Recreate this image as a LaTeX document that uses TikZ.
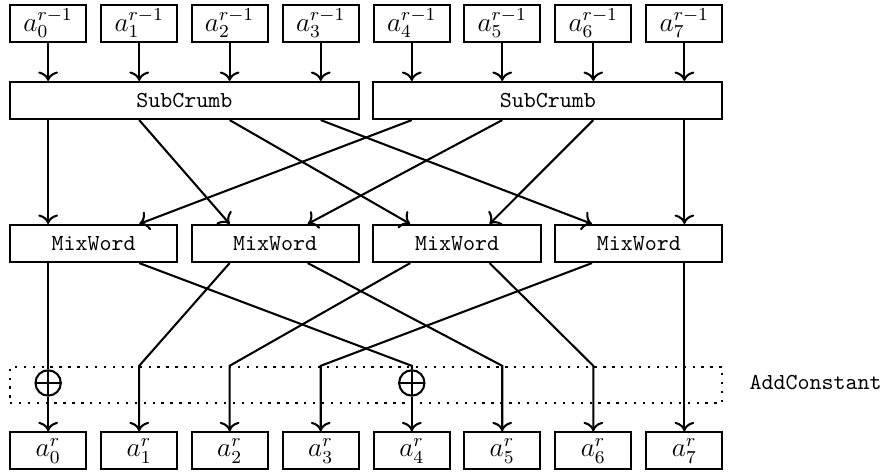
\documentclass[tikz,border=0pt]{standalone}
\usetikzlibrary{calc,positioning,arrows.meta}

\tikzset{
  wordbox/.style={draw,line width=0.9pt,minimum width=1.17cm,minimum height=0.57cm,inner sep=0pt,font=\large},
  layerbox/.style={draw,line width=0.9pt,minimum height=0.57cm,inner sep=0pt},
  xorgate/.style={draw,line width=0.9pt,circle,minimum size=0.39cm,inner sep=0pt,
    path picture={\draw[line width=0.9pt] (path picture bounding box.west) -- (path picture bounding box.east);
                  \draw[line width=0.9pt] (path picture bounding box.north) -- (path picture bounding box.south);}},
  constbox/.style={draw,line width=1pt,dash pattern=on 1pt off 2.9pt,minimum width=10.95cm,minimum height=0.553cm,inner sep=0pt},
  wire/.style={line width=0.9pt},
  arr/.style={line width=0.9pt,-{To[scale=1.15]}}
}

\begin{document}
\begin{tikzpicture}
        \useasboundingbox (0,0) rectangle (13.65,-7.30);
        % input words
        \node[wordbox] (in0) at (0.74,-0.36) {$a_0^{r-1}$};
        \node[wordbox] (in1) at (2.14,-0.36) {$a_1^{r-1}$};
        \node[wordbox] (in2) at (3.53,-0.36) {$a_2^{r-1}$};
        \node[wordbox] (in3) at (4.93,-0.36) {$a_3^{r-1}$};
        \node[wordbox] (in4) at (6.33,-0.36) {$a_4^{r-1}$};
        \node[wordbox] (in5) at (7.72,-0.36) {$a_5^{r-1}$};
        \node[wordbox] (in6) at (9.12,-0.36) {$a_6^{r-1}$};
        \node[wordbox] (in7) at (10.52,-0.36) {$a_7^{r-1}$};
        % layers
        \node[layerbox,minimum width=5.37cm] (sc1) at (2.835,-1.545) {\texttt{SubCrumb}};
        \node[layerbox,minimum width=5.37cm] (sc2) at (8.42,-1.545) {\texttt{SubCrumb}};
        \node[layerbox,minimum width=2.57cm] (mw1) at (1.44,-3.743) {\texttt{MixWord}};
        \node[layerbox,minimum width=2.57cm] (mw2) at (4.23,-3.743) {\texttt{MixWord}};
        \node[layerbox,minimum width=2.57cm] (mw3) at (7.025,-3.743) {\texttt{MixWord}};
        \node[layerbox,minimum width=2.57cm] (mw4) at (9.82,-3.743) {\texttt{MixWord}};
        \node[constbox] (ac) at (5.627,-5.917) {};
        \node[right=0.28cm of ac,yshift=1pt] (aclabel) {\texttt{AddConstant}};
        \node[xorgate] (xor0) at (0.74,-5.887) {};
        \node[xorgate] (xor4) at (6.33,-5.887) {};
        % output words
        \node[wordbox] (out0) at (0.74,-6.93) {$a_0^{r}$};
        \node[wordbox] (out1) at (2.14,-6.93) {$a_1^{r}$};
        \node[wordbox] (out2) at (3.53,-6.93) {$a_2^{r}$};
        \node[wordbox] (out3) at (4.93,-6.93) {$a_3^{r}$};
        \node[wordbox] (out4) at (6.33,-6.93) {$a_4^{r}$};
        \node[wordbox] (out5) at (7.72,-6.93) {$a_5^{r}$};
        \node[wordbox] (out6) at (9.12,-6.93) {$a_6^{r}$};
        \node[wordbox] (out7) at (10.52,-6.93) {$a_7^{r}$};
        % into SubCrumb
        \draw[arr] (in0.south) -- (in0.south |- sc1.north);
        \draw[arr] (in1.south) -- (in1.south |- sc1.north);
        \draw[arr] (in2.south) -- (in2.south |- sc1.north);
        \draw[arr] (in3.south) -- (in3.south |- sc1.north);
        \draw[arr] (in4.south) -- (in4.south |- sc2.north);
        \draw[arr] (in5.south) -- (in5.south |- sc2.north);
        \draw[arr] (in6.south) -- (in6.south |- sc2.north);
        \draw[arr] (in7.south) -- (in7.south |- sc2.north);
        % SubCrumb to MixWord
        \draw[arr] (sc1.south -| in0) -- (mw1.north -| in0);
        \draw[arr] (sc1.south -| in1) -- (mw2.north -| in2);
        \draw[arr] (sc1.south -| in2) -- ($(mw3.north)+(-0.72,0)$);
        \draw[arr] (sc1.south -| in3) -- ($(mw4.north)+(-0.72,0)$);
        \draw[arr] (sc2.south -| in4) -- (mw1.north -| in1);
        \draw[arr] (sc2.south -| in5) -- ($(mw2.north)+(0.5,0)$);
        \draw[arr] (sc2.south -| in6) -- ($(mw3.north)+(0.5,0)$);
        \draw[arr] (sc2.south -| in7) -- (mw4.north -| in7);
        % MixWord to output
        \draw[wire] (mw1.south -| in0) -- (xor0.north);
        \draw[arr] (xor0.south) -- (out0.north);
        \draw[wire] (mw1.south -| in1) -- (ac.north -| out4) -- (xor4.north);
        \draw[arr] (xor4.south) -- (out4.north);
        \draw[arr] (mw2.south -| in2) -- (ac.north -| out1) -- (out1.north);
        \draw[arr] ($(mw2.south)+(0.5,0)$) -- (ac.north -| out5) -- (out5.north);
        \draw[arr] ($(mw3.south)+(-0.72,0)$) -- (ac.north -| out2) -- (out2.north);
        \draw[arr] ($(mw3.south)+(0.5,0)$) -- (ac.north -| out6) -- (out6.north);
        \draw[arr] ($(mw4.south)+(-0.72,0)$) -- (ac.north -| out3) -- (out3.north);
        \draw[arr] (mw4.south -| in7) -- (out7.north);
    \end{tikzpicture}
\end{document}
